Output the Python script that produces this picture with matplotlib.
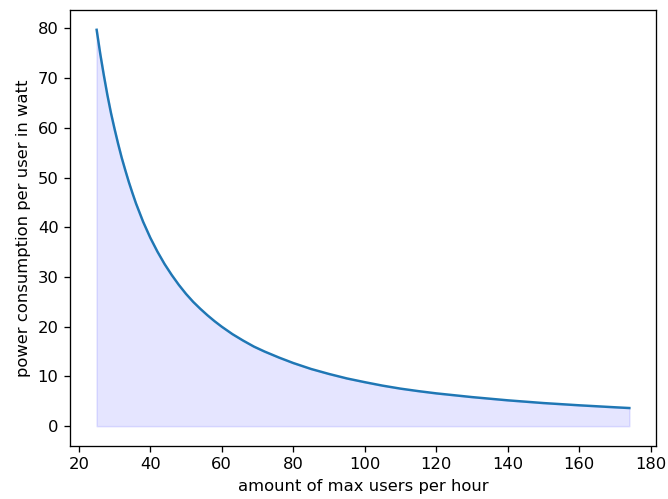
import matplotlib
matplotlib.use("Agg")
import matplotlib.pyplot as plt

# users per hour vs. power per user (W)
users = [25, 26, 27, 28, 29, 30, 31, 32, 33, 34, 35, 36, 38, 40, 42, 44, 46,
         48, 50, 52, 54, 56, 58, 60, 63, 66, 69, 72, 76, 80, 85, 90, 95, 100,
         105, 110, 115, 120, 130, 140, 150, 160, 170, 174]
watt = [79.7, 74.9, 70.6, 66.6, 63.0, 59.8, 56.8, 54.0, 51.5, 49.1, 46.9, 44.8,
        41.1, 37.9, 35.1, 32.6, 30.4, 28.4, 26.6, 25.0, 23.6, 22.3, 21.1, 20.0,
        18.5, 17.2, 16.0, 15.0, 13.8, 12.7, 11.5, 10.5, 9.6, 8.85, 8.15, 7.55,
        7.05, 6.6, 5.85, 5.2, 4.65, 4.2, 3.8, 3.65]

DPI = 118
fig, ax = plt.subplots(figsize=(668 / DPI, 499 / DPI), dpi=DPI)
fig.subplots_adjust(left=0.1048, right=0.982, top=0.98, bottom=0.1062)

ax.plot(users, watt)
ax.fill_between(users, watt, color="blue", alpha=0.1)
ax.set_xlabel("amount of max users per hour")
ax.set_ylabel("power consumption per user in watt")

fig.savefig("out.png", dpi=DPI)
